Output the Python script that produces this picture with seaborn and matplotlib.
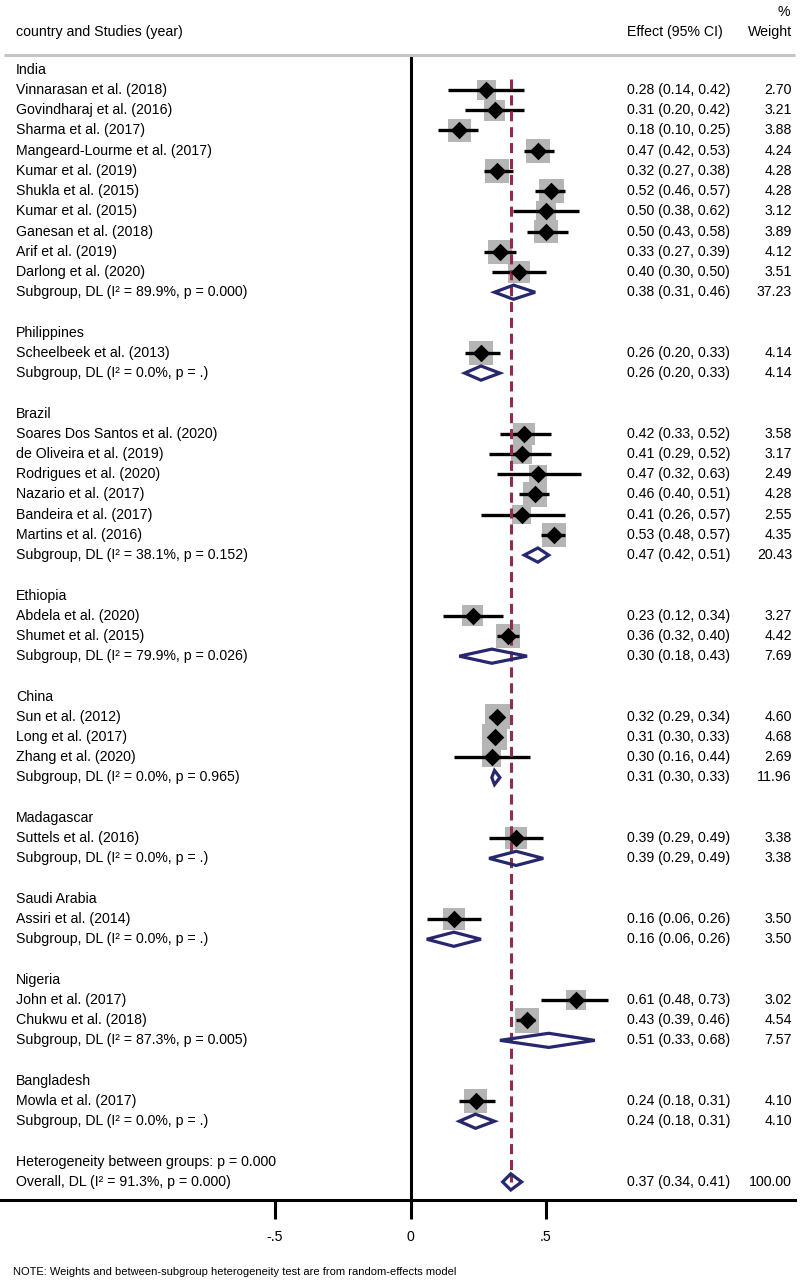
import numpy as np
import pandas as pd
import matplotlib
matplotlib.use("Agg")
import matplotlib.pyplot as plt
import seaborn as sns
from matplotlib.patches import Polygon

# ---------------- data ----------------
groups = ["India", "Philippines", "Brazil", "Ethiopia", "China", "Madagascar",
          "Saudi Arabia", "Nigeria", "Bangladesh"]

study_labels = [
    "Vinnarasan et al. (2018)", "Govindharaj et al. (2016)", "Sharma et al. (2017)",
    "Mangeard-Lourme et al. (2017)", "Kumar et al. (2019)", "Shukla et al. (2015)",
    "Kumar et al. (2015)", "Ganesan et al. (2018)", "Arif et al. (2019)",
    "Darlong et al. (2020)",
    "Scheelbeek et al. (2013)",
    "Soares Dos Santos et al. (2020)", "de Oliveira et al. (2019)",
    "Rodrigues et al. (2020)", "Nazario et al. (2017)", "Bandeira et al. (2017)",
    "Martins et al. (2016)",
    "Abdela et al. (2020)", "Shumet et al. (2015)",
    "Sun et al. (2012)", "Long et al. (2017)", "Zhang et al. (2020)",
    "Suttels et al. (2016)",
    "Assiri et al. (2014)",
    "John et al. (2017)", "Chukwu et al. (2018)",
    "Mowla et al. (2017)",
]
study_group = (["India"] * 10 + ["Philippines"] + ["Brazil"] * 6 + ["Ethiopia"] * 2
               + ["China"] * 3 + ["Madagascar"] + ["Saudi Arabia"] + ["Nigeria"] * 2
               + ["Bangladesh"])
study_est = [0.28, 0.31, 0.18, 0.47, 0.32, 0.52, 0.50, 0.50, 0.33, 0.40,
             0.26,
             0.42, 0.41, 0.47, 0.46, 0.41, 0.53,
             0.23, 0.36,
             0.32, 0.31, 0.30,
             0.39,
             0.16,
             0.61, 0.43,
             0.24]
study_lo = [0.14, 0.20, 0.10, 0.42, 0.27, 0.46, 0.38, 0.43, 0.27, 0.30,
            0.20,
            0.33, 0.29, 0.32, 0.40, 0.26, 0.48,
            0.12, 0.32,
            0.29, 0.30, 0.16,
            0.29,
            0.06,
            0.48, 0.39,
            0.18]
study_hi = [0.42, 0.42, 0.25, 0.53, 0.38, 0.57, 0.62, 0.58, 0.39, 0.50,
            0.33,
            0.52, 0.52, 0.63, 0.51, 0.57, 0.57,
            0.34, 0.40,
            0.34, 0.33, 0.44,
            0.49,
            0.26,
            0.73, 0.46,
            0.31]
study_wt = [2.70, 3.21, 3.88, 4.24, 4.28, 4.28, 3.12, 3.89, 4.12, 3.51,
            4.14,
            3.58, 3.17, 2.49, 4.28, 2.55, 4.35,
            3.27, 4.42,
            4.60, 4.68, 2.69,
            3.38,
            3.50,
            3.02, 4.54,
            4.10]

group_i2 = [89.9, 0.0, 38.1, 79.9, 0.0, 0.0, 0.0, 87.3, 0.0]
group_p = ["0.000", ".", "0.152", "0.026", "0.965", ".", ".", "0.005", "."]
group_est = [0.38, 0.26, 0.47, 0.30, 0.31, 0.39, 0.16, 0.51, 0.24]
group_lo = [0.31, 0.20, 0.42, 0.18, 0.30, 0.29, 0.06, 0.33, 0.18]
group_hi = [0.46, 0.33, 0.51, 0.43, 0.33, 0.49, 0.26, 0.68, 0.31]
group_wt = [37.23, 4.14, 20.43, 7.69, 11.96, 3.38, 3.50, 7.57, 4.10]

between_p = "0.000"
overall_i2 = 91.3
overall_p = "0.000"
overall_est, overall_lo, overall_hi, overall_wt = 0.37, 0.34, 0.41, 100.00

xtick_vals = [-0.5, 0, 0.5]
xtick_labels = ["-.5", "0", ".5"]

# ---------------- layout (rows) ----------------
studies = pd.DataFrame({"label": study_labels, "group": study_group, "est": study_est,
                        "lo": study_lo, "hi": study_hi, "wt": study_wt})
rows_text = []
study_rows = []
sub_rows = []
r = 0
for g in groups:
    rows_text.append((r, g))
    r += 1
    for idx in studies.index[studies["group"] == g]:
        study_rows.append(r)
        r += 1
    sub_rows.append(r)
    r += 1
    r += 1
het_row = r
overall_row = r + 1
studies["row"] = study_rows

# ---------------- styling ----------------
sns.set_theme(style="white")
plt.rcParams["font.family"] = ["Liberation Sans", "DejaVu Sans"]
plt.rcParams["text.color"] = "black"
plt.rcParams["xtick.color"] = "black"

FS = 10.2
GRAY = "#b5b5b5"
NAVY = "#27276f"
MAROON = "#8c2f47"

PX0, PXU = 410.5, 271.0      # pixel of x=0, pixels per unit
ROW0, ROWH = 69.8, 20.22     # pixel of row 0, pixels per row
W, H = 800, 1283

def prow(py):
    return (py - ROW0) / ROWH

def pxx(px):
    return (px - PX0) / PXU

fig = plt.figure(figsize=(W / 100, H / 100), dpi=100)
ax = fig.add_axes([0, 0, 1, 1])

# weight squares
sns.scatterplot(data=studies, x="est", y="row", size="wt", sizes=(0, 355),
                size_norm=(0, 5), marker="s", color=GRAY, linewidth=0,
                legend=False, ax=ax, zorder=1)
# confidence intervals
ax.hlines(studies["row"], studies["lo"], studies["hi"], color="black", lw=2.4, zorder=3)
# overall dashed line
ax.plot([overall_est, overall_est], [0.45, overall_row], color=MAROON, lw=2.2,
        dashes=(3.3, 1.9), zorder=3.5, solid_capstyle="butt")
# point estimates
sns.scatterplot(data=studies, x="est", y="row", marker="D", s=80, color="black",
                linewidth=0, legend=False, ax=ax, zorder=4)

# subgroup and overall diamonds
def diamond(est, lo, hi, row, h=0.35):
    poly = Polygon([(lo, row), (est, row - h), (hi, row), (est, row + h)], closed=True,
                   fill=False, edgecolor=NAVY, lw=2.3, zorder=5, joinstyle="miter")
    ax.add_patch(poly)

for i, g in enumerate(groups):
    diamond(group_est[i], group_lo[i], group_hi[i], sub_rows[i])
diamond(overall_est, overall_lo, overall_hi, overall_row, h=0.4)

# zero line
ax.vlines(0, prow(56), prow(1200), color="black", lw=2.2, zorder=2)
# header rule
ax.hlines(prow(55), pxx(4), pxx(795), color="#c4c4c4", lw=2.2, zorder=2)

# ---------------- text ----------------
tr = ax.get_yaxis_transform()
XL, XE, XW = 16 / W, 627 / W, 792 / W

ax.text(XL, prow(32), "country and Studies (year)", transform=tr, ha="left", va="center", fontsize=FS)
ax.text(XE, prow(32), "Effect (95% CI)", transform=tr, ha="left", va="center", fontsize=FS)
ax.text(XW, prow(32), "Weight", transform=tr, ha="right", va="center", fontsize=FS)
ax.text(790 / W, prow(12), "%", transform=tr, ha="right", va="center", fontsize=FS)

for row, g in rows_text:
    ax.text(XL, row, g, transform=tr, ha="left", va="center", fontsize=FS)

for _, s in studies.iterrows():
    ax.text(XL, s["row"], s["label"], transform=tr, ha="left", va="center", fontsize=FS)
    ax.text(XE, s["row"], f"{s['est']:.2f} ({s['lo']:.2f}, {s['hi']:.2f})",
            transform=tr, ha="left", va="center", fontsize=FS)
    ax.text(XW, s["row"], f"{s['wt']:.2f}", transform=tr, ha="right", va="center", fontsize=FS)

for i, g in enumerate(groups):
    rr = sub_rows[i]
    ax.text(XL, rr, f"Subgroup, DL (I\u00b2 = {group_i2[i]:.1f}%, p = {group_p[i]})",
            transform=tr, ha="left", va="center", fontsize=FS)
    ax.text(XE, rr, f"{group_est[i]:.2f} ({group_lo[i]:.2f}, {group_hi[i]:.2f})",
            transform=tr, ha="left", va="center", fontsize=FS)
    ax.text(XW, rr, f"{group_wt[i]:.2f}", transform=tr, ha="right", va="center", fontsize=FS)

ax.text(XL, het_row, f"Heterogeneity between groups: p = {between_p}", transform=tr,
        ha="left", va="center", fontsize=FS)
ax.text(XL, overall_row, f"Overall, DL (I\u00b2 = {overall_i2:.1f}%, p = {overall_p})",
        transform=tr, ha="left", va="center", fontsize=FS)
ax.text(XE, overall_row, f"{overall_est:.2f} ({overall_lo:.2f}, {overall_hi:.2f})",
        transform=tr, ha="left", va="center", fontsize=FS)
ax.text(XW, overall_row, f"{overall_wt:.2f}", transform=tr, ha="right", va="center", fontsize=FS)

fig.text(13 / W, 1 - 1272 / H,
         "NOTE: Weights and between-subgroup heterogeneity test are from random-effects model",
         ha="left", va="center", fontsize=8.0)

# ---------------- axes ----------------
ax.set_xlim(pxx(0), pxx(W))
ax.set_ylim(prow(H), prow(0))
ax.set_xlabel("")
ax.set_ylabel("")
ax.set_yticks([])
ax.set_xticks(xtick_vals)
ax.set_xticklabels(xtick_labels)
for side in ["top", "right", "left"]:
    ax.spines[side].set_visible(False)
ax.spines["bottom"].set_position(("data", prow(1200)))
ax.spines["bottom"].set_bounds(pxx(0), pxx(795))
ax.spines["bottom"].set_linewidth(2.2)
ax.spines["bottom"].set_color("black")
ax.tick_params(axis="x", direction="out", length=13.7, width=2.2, pad=8,
               labelsize=FS, bottom=True, colors="black")
ax.patch.set_alpha(0)

fig.savefig("out.png", dpi=100, facecolor="white")
